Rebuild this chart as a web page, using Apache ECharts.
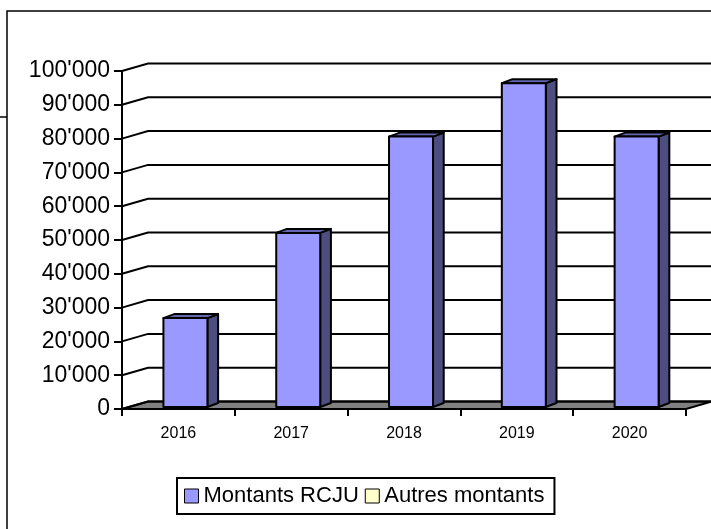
<!DOCTYPE html>
<html>
<head>
<meta charset="utf-8">
<script src="https://cdn.jsdelivr.net/npm/echarts@6/dist/echarts.min.js"></script>
<style>
  html, body { margin: 0; padding: 0; background: #fff; }
  #chart { width: 711px; height: 529px; }
</style>
</head>
<body>
<div id="chart"></div>
<script>
// data
const years = ['2016', '2017', '2018', '2019', '2020']
const montantsRCJU = [26300, 51500, 80000, 95800, 80000]
const autresMontants = [0, 0, 0, 0, 0]
const yTicks = [0, 10000, 20000, 30000, 40000, 50000, 60000, 70000, 80000, 90000, 100000]

// 3d look: depth vector of the floor, bar slab inside it
const DEPTH = [26, -7.5]
const BAR_FRONT = 0.27
const BAR_DEPTH = [10.7, -4]
const BAR_WIDTH = 0.39

const font = '"Liberation Sans", Arial, sans-serif'

function fmt (v) {
  return String(v).replace(/\B(?=(\d{3})+(?!\d))/g, "'")
}

function renderWall (params, api) {
  const cs = params.coordSys
  const v = api.value(1)
  const y = api.coord([0, v])[1]
  const x0 = cs.x
  const x1 = cs.x + cs.width
  const children = []
  if (v === 0) {
    children.push({
      type: 'polygon',
      shape: { points: [[x0, y], [x0 + DEPTH[0], y + DEPTH[1]], [x1 + DEPTH[0], y + DEPTH[1]], [x1, y]] },
      style: { fill: '#808080', stroke: '#000', lineWidth: 2 }
    })
  }
  children.push({
    type: 'polyline',
    shape: { points: [[x0, y], [x0 + DEPTH[0], y + DEPTH[1]], [x1 + DEPTH[0] + 2, y + DEPTH[1]]] },
    style: { stroke: '#000', lineWidth: 2, fill: null }
  })
  return { type: 'group', children: children }
}

function makeBarRenderer (fillFront, fillSide, fillTop) {
  return function (params, api) {
    const i = api.value(0)
    const v = api.value(1)
    if (!v) return
    const pTop = api.coord([i, v])
    const pBot = api.coord([i, 0])
    const band = api.size([1, 0])[0]
    const ox = DEPTH[0] * BAR_FRONT
    const oy = DEPTH[1] * BAR_FRONT
    const xl = pTop[0] - band * BAR_WIDTH / 2 + ox
    const xr = pTop[0] + band * BAR_WIDTH / 2 + ox
    const yt = pTop[1] + oy
    const yb = pBot[1] + oy
    const dx = BAR_DEPTH[0]
    const dy = BAR_DEPTH[1]
    const line = { stroke: '#000', lineWidth: 2, lineJoin: 'round' }
    return {
      type: 'group',
      children: [
        {
          type: 'polygon',
          shape: { points: [[xr, yt], [xr + dx, yt + dy], [xr + dx, yb + dy], [xr, yb]] },
          style: Object.assign({ fill: fillSide }, line)
        },
        {
          type: 'polygon',
          shape: { points: [[xl, yt], [xl + dx, yt + dy], [xr + dx, yt + dy], [xr, yt]] },
          style: Object.assign({ fill: fillTop }, line)
        },
        {
          type: 'rect',
          shape: { x: xl, y: yt, width: xr - xl, height: yb - yt },
          style: Object.assign({ fill: fillFront }, line)
        }
      ]
    }
  }
}

const chart = echarts.init(document.getElementById('chart'))
const options = {
  animation: false,
  backgroundColor: '#fff',
  textStyle: { fontFamily: font },
  grid: {
    left: 122,
    right: 25,
    top: 71,
    bottom: 120
  },
  legend: {
    left: 177,
    top: 478,
    orient: 'horizontal',
    icon: 'rect',
    itemWidth: 14,
    itemHeight: 14,
    itemGap: 6,
    padding: [7, 10, 7, 7],
    borderColor: '#000',
    borderWidth: 2,
    selectedMode: false,
    textStyle: { fontSize: 22, color: '#000', fontFamily: font },
    data: [
      { name: 'Montants RCJU', itemStyle: { color: '#9999FF', borderColor: '#000', borderWidth: 1 } },
      { name: 'Autres montants', itemStyle: { color: '#FFFFCC', borderColor: '#000', borderWidth: 1 } }
    ]
  },
  xAxis: {
    type: 'category',
    data: years,
    boundaryGap: true,
    axisLine: { show: true, lineStyle: { color: '#000', width: 2 } },
    axisTick: { show: true, length: 7, lineStyle: { color: '#000', width: 2 } },
    axisLabel: { color: '#000', fontSize: 16, margin: 17, fontFamily: font },
    splitLine: { show: false }
  },
  yAxis: {
    type: 'value',
    min: 0,
    max: 100000,
    interval: 10000,
    axisLine: { show: true, lineStyle: { color: '#000', width: 2 } },
    axisTick: { show: true, length: 8, lineStyle: { color: '#000', width: 2 } },
    axisLabel: { color: '#000', fontSize: 23, margin: 12, fontFamily: font, formatter: fmt },
    splitLine: { show: false }
  },
  graphic: [
    {
      type: 'polyline',
      shape: { points: [[7, 529], [7, 11], [711, 11]] },
      style: { stroke: '#000', lineWidth: 1.5, fill: null }
    },
    {
      type: 'line',
      shape: { x1: 0, y1: 117, x2: 7, y2: 117 },
      style: { stroke: '#000', lineWidth: 1.5 }
    }
  ],
  series: [
    {
      name: 'wall',
      type: 'custom',
      z: 1,
      clip: false,
      silent: true,
      renderItem: renderWall,
      data: yTicks.map(v => [0, v])
    },
    {
      name: 'Montants RCJU',
      type: 'custom',
      z: 3,
      clip: false,
      itemStyle: { color: '#9999FF' },
      renderItem: makeBarRenderer('#9999FF', '#4D4D80', '#6666B0'),
      data: montantsRCJU.map((v, i) => [i, v])
    },
    {
      name: 'Autres montants',
      type: 'custom',
      z: 3,
      clip: false,
      itemStyle: { color: '#FFFFCC' },
      renderItem: makeBarRenderer('#FFFFCC', '#80806A', '#CCCCA3'),
      data: autresMontants.map((v, i) => [i, v])
    }
  ]
}
chart.setOption(options)
</script>
</body>
</html>
